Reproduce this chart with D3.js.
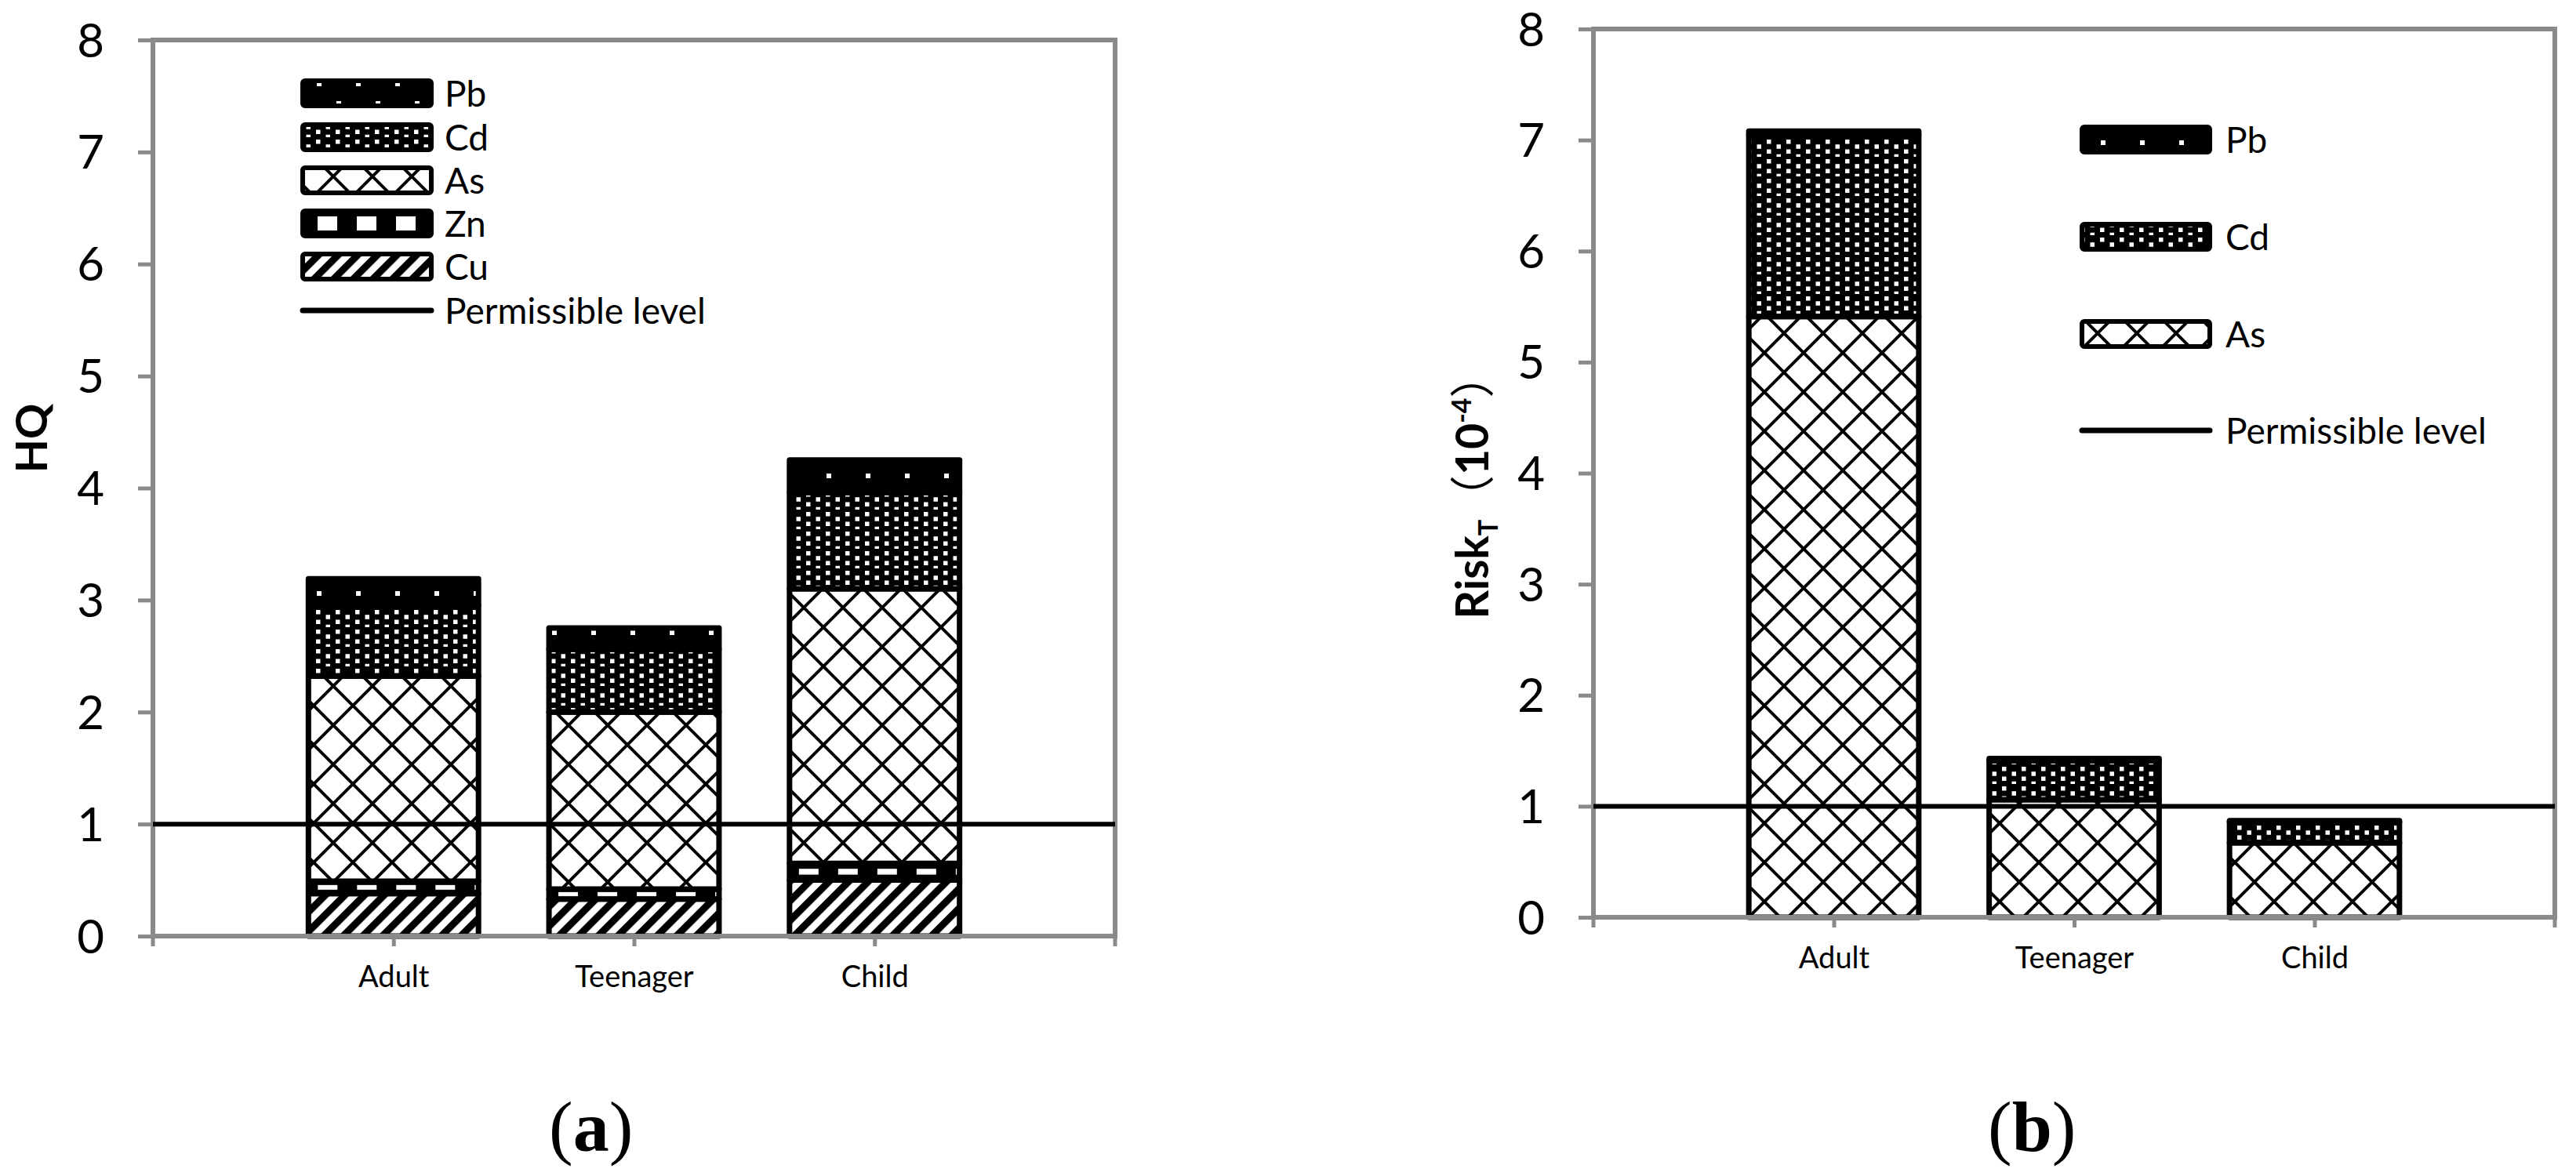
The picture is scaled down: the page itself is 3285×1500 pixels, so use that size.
<!DOCTYPE html>
<html>
<head>
<meta charset="utf-8">
<script src="https://cdn.jsdelivr.net/npm/d3@7"></script>
<style>
  html, body { margin: 0; padding: 0; background: #fff; }
  svg { display: block; }
</style>
</head>
<body>
<script>
// ---------------- DATA ----------------
const categories = ["Adult", "Teenager", "Child"];
const yTicks = [0, 1, 2, 3, 4, 5, 6, 7, 8];
const permissibleLevel = 1;

// (a) HQ, stacked bottom -> top
const hqKeys = ["Cu", "Zn", "As", "Cd", "Pb"];
const hqCu = [0.38, 0.33, 0.50];
const hqZn = [0.11, 0.09, 0.15];
const hqAs = [1.83, 1.58, 2.45];
const hqCd = [0.63, 0.56, 0.86];
const hqPb = [0.24, 0.19, 0.29];

// (b) Risk_T (10^-4), stacked bottom -> top
const riskKeys = ["As", "Cd", "Pb"];
const riskAs = [5.41, 1.06, 0.67];
const riskCd = [1.64, 0.35, 0.19];
const riskPb = [0.03, 0.02, 0.01];

// legend entries (top -> bottom)
const legendA = ["Pb", "Cd", "As", "Zn", "Cu"];
const legendB = ["Pb", "Cd", "As"];
const lineLabel = "Permissible level";

// ---------------- BUILD TABLES ----------------
const hqData = categories.map((c, i) => ({cat: c, Cu: hqCu[i], Zn: hqZn[i], As: hqAs[i], Cd: hqCd[i], Pb: hqPb[i]}));
const riskData = categories.map((c, i) => ({cat: c, As: riskAs[i], Cd: riskCd[i], Pb: riskPb[i]}));

const W = 3285, H = 1500;
const GRAY = "#8a8a8a";
const FONT = "Lato, 'Open Sans', sans-serif";

const svg = d3.select("body").append("svg").attr("width", W).attr("height", H);
svg.append("rect").attr("width", W).attr("height", H).attr("fill", "#fff");
const defs = svg.append("defs");

// ---------------- PATTERNS ----------------
(function () {
  // Pb: black with sparse white dots
  const pb = defs.append("pattern").attr("id", "pat-Pb").attr("patternUnits", "userSpaceOnUse")
    .attr("width", 50).attr("height", 50);
  pb.append("rect").attr("width", 50).attr("height", 50).attr("fill", "#000");
  [[4, 4], [29, 29]].forEach(p => pb.append("rect").attr("x", p[0]).attr("y", p[1])
    .attr("width", 6).attr("height", 6).attr("fill", "#fff"));

  // Cd: black with dense white dots
  const cd = defs.append("pattern").attr("id", "pat-Cd").attr("patternUnits", "userSpaceOnUse")
    .attr("width", 25).attr("height", 25);
  cd.append("rect").attr("width", 25).attr("height", 25).attr("fill", "#000");
  [[0, 0], [0, 12.5], [12.5, 6.25], [12.5, 18.75]].forEach(p => cd.append("rect")
    .attr("x", p[0] + 3).attr("y", p[1] + 3).attr("width", 5.5).attr("height", 5.5).attr("fill", "#fff"));

  // As: white with diagonal lattice
  const as = defs.append("pattern").attr("id", "pat-As").attr("patternUnits", "userSpaceOnUse")
    .attr("width", 50).attr("height", 50);
  as.append("rect").attr("width", 50).attr("height", 50).attr("fill", "#fff");
  as.append("path").attr("d", "M-5,-5L55,55M55,-5L-5,55").attr("stroke", "#000").attr("stroke-width", 4);

  // Cu: wide upward diagonal stripes
  const cu = defs.append("pattern").attr("id", "pat-Cu").attr("patternUnits", "userSpaceOnUse")
    .attr("width", 17.68).attr("height", 20).attr("patternTransform", "rotate(45)");
  cu.append("rect").attr("width", 17.68).attr("height", 20).attr("fill", "#fff");
  cu.append("rect").attr("width", 9).attr("height", 20).attr("fill", "#000");
})();

function znPattern(id, x, y, h) {
  const dh = Math.min(18, Math.max(6, h - 14));
  const p = defs.append("pattern").attr("id", id).attr("patternUnits", "userSpaceOnUse")
    .attr("x", x).attr("y", y).attr("width", 50).attr("height", h);
  p.append("rect").attr("width", 50).attr("height", h).attr("fill", "#000");
  p.append("rect").attr("x", 0).attr("y", (h - dh) / 2).attr("width", 25).attr("height", dh).attr("fill", "#fff");
  return `url(#${id})`;
}

// ---------------- CHART ----------------
function drawChart(o) {
  const g = svg.append("g");
  const x = d3.scalePoint().domain(categories).range([o.left, o.right]).padding(1);
  const y = d3.scaleLinear().domain([0, 8]).range([o.bottom, o.top]);
  const bw = x.step() * 0.707;
  const series = d3.stack().keys(o.keys)(o.data);

  series.forEach(layer => {
    const key = layer.key;
    g.append("g").selectAll("rect").data(layer).enter().append("rect")
      .attr("x", d => x(d.data.cat) - bw / 2)
      .attr("y", d => y(d[1]))
      .attr("width", bw)
      .attr("height", d => y(d[0]) - y(d[1]))
      .attr("fill", (d, i) => key === "Zn"
        ? znPattern(`zn-${o.id}-${i}`, x(d.data.cat) - bw / 2 + 12, y(d[1]), y(d[0]) - y(d[1]))
        : `url(#pat-${key})`)
      .attr("stroke", "#000").attr("stroke-width", 7).attr("stroke-linejoin", "round");
  });

  // plot frame
  g.append("rect").attr("x", o.left).attr("y", o.top)
    .attr("width", o.right - o.left).attr("height", o.bottom - o.top)
    .attr("fill", "none").attr("stroke", GRAY).attr("stroke-width", 6);

  // y axis
  const ya = g.append("g").attr("transform", `translate(${o.left},0)`)
    .call(d3.axisLeft(y).tickValues(yTicks).tickSize(19).tickPadding(43).tickFormat(d3.format("d")));
  ya.select(".domain").remove();
  ya.selectAll(".tick line").attr("stroke", GRAY).attr("stroke-width", 5);
  ya.selectAll(".tick text").attr("font-family", FONT).attr("font-size", 60).attr("fill", "#000").attr("dy", "0.35em");

  // x axis
  const xa = g.append("g").attr("transform", `translate(0,${o.bottom})`)
    .call(d3.axisBottom(x).tickSize(13).tickPadding(25));
  xa.select(".domain").remove();
  xa.selectAll(".tick line").attr("stroke", GRAY).attr("stroke-width", 5);
  xa.selectAll(".tick text").attr("font-family", FONT).attr("font-size", 38).attr("fill", "#000");
  [o.left, o.right].forEach(px => g.append("line").attr("x1", px).attr("x2", px)
    .attr("y1", o.bottom).attr("y2", o.bottom + 13).attr("stroke", GRAY).attr("stroke-width", 5));

  // permissible level
  g.append("line").attr("x1", o.left).attr("x2", o.right)
    .attr("y1", y(permissibleLevel)).attr("y2", y(permissibleLevel))
    .attr("stroke", "#000").attr("stroke-width", 6);

  // legend
  const lg = g.append("g");
  o.legend.forEach((k, i) => {
    const cy = o.legendRows[i];
    const sx = o.legendX, sw = o.legendW, sh = 32;
    const fill = k === "Zn" ? znPattern(`zn-${o.id}-legend`, sx + 19, cy - sh / 2, sh) : `url(#pat-${k})`;
    lg.append("rect").attr("x", sx).attr("y", cy - sh / 2).attr("width", sw).attr("height", sh)
      .attr("rx", 3).attr("fill", fill).attr("stroke", "#000").attr("stroke-width", 6);
    lg.append("text").attr("x", o.legendTextX).attr("y", cy).attr("dy", "0.36em")
      .attr("font-family", FONT).attr("font-size", 46).text(k);
  });
  const ly = o.legendRows[o.legend.length];
  lg.append("line").attr("x1", o.legendX).attr("x2", o.legendX + o.legendW)
    .attr("y1", ly).attr("y2", ly).attr("stroke", "#000").attr("stroke-width", 7).attr("stroke-linecap", "round");
  lg.append("text").attr("x", o.legendTextX).attr("y", ly).attr("dy", "0.36em")
    .attr("font-family", FONT).attr("font-size", 46).text(lineLabel);
  return g;
}

drawChart({
  id: "a", left: 195, right: 1422, top: 51, bottom: 1194,
  keys: hqKeys, data: hqData, legend: legendA,
  legendRows: [119, 175, 230, 285, 340, 396], legendX: 386, legendW: 164, legendTextX: 567
});
drawChart({
  id: "b", left: 2032, right: 3258, top: 37, bottom: 1170,
  keys: riskKeys, data: riskData, legend: legendB,
  legendRows: [178, 302, 426, 549], legendX: 2655, legendW: 163, legendTextX: 2838
});

// axis titles
svg.append("text").attr("transform", "translate(60,559) rotate(-90)")
  .attr("text-anchor", "middle").attr("font-family", FONT).attr("font-weight", "bold")
  .attr("font-size", 56).text("HQ");

const rt = svg.append("text").attr("transform", "translate(1898,620) rotate(-90)")
  .attr("text-anchor", "middle").attr("font-family", FONT).attr("font-weight", "bold").attr("font-size", 57);
rt.append("tspan").text("Risk");
rt.append("tspan").attr("font-size", 34).attr("dy", 12).text("T");
rt.append("tspan").attr("dy", -12).attr("font-family", "'Noto Sans CJK SC', sans-serif").attr("font-weight", "normal").text("（");
rt.append("tspan").text("10");
rt.append("tspan").attr("font-size", 34).attr("dy", -22).text("-4");
rt.append("tspan").attr("dy", 22).attr("font-family", "'Noto Sans CJK SC', sans-serif").attr("font-weight", "normal").text("）");

// panel labels
[["a", 700], ["b", 2535]].forEach(([t, px]) => {
  const tx = svg.append("text").attr("x", px).attr("y", 1468)
    .attr("font-family", "'Liberation Serif', 'Times New Roman', serif").attr("font-size", 92);
  tx.append("tspan").text("(");
  tx.append("tspan").attr("font-weight", "bold").text(t);
  tx.append("tspan").text(")");
});
</script>
</body>
</html>
